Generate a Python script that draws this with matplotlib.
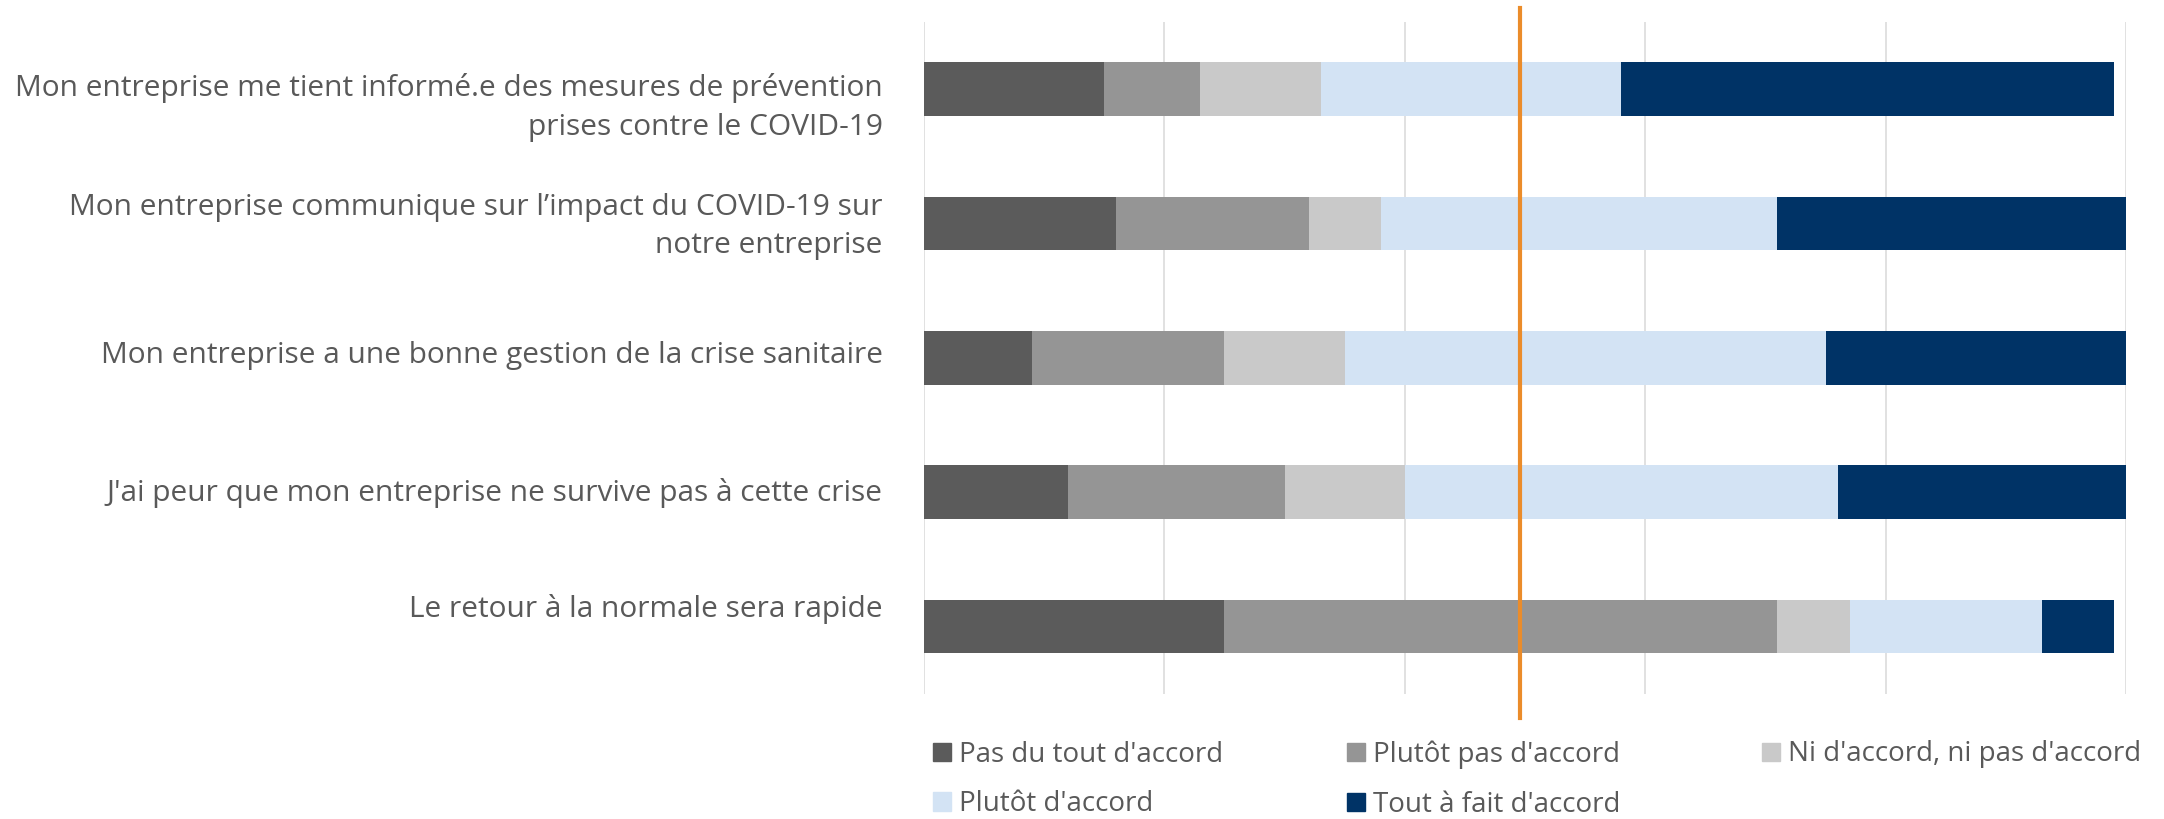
import numpy as np
import matplotlib.pyplot as plt
from matplotlib.patches import Patch

plt.rcParams['font.family'] = ['Open Sans', 'DejaVu Sans']

# Affirmations (de haut en bas)
affirmations = [
    "Mon entreprise me tient informé.e des mesures de prévention\nprises contre le COVID-19",
    "Mon entreprise communique sur l’impact du COVID-19 sur\nnotre entreprise",
    "Mon entreprise a une bonne gestion de la crise sanitaire",
    "J'ai peur que mon entreprise ne survive pas à cette crise",
    "Le retour à la normale sera rapide",
]
reponses = ["Pas du tout d'accord", "Plutôt pas d'accord", "Ni d'accord, ni pas d'accord",
            "Plutôt d'accord", "Tout à fait d'accord"]

# % de répondants par réponse
pas_du_tout = [15, 16, 9, 12, 25]
plutot_pas = [8, 16, 16, 18, 46]
ni_ni = [10, 6, 10, 10, 6]
plutot = [25, 33, 40, 36, 16]
tout_a_fait = [41, 29, 25, 24, 6]

# repère vertical (orange)
seuil = 49.6

series = [pas_du_tout, plutot_pas, ni_ni, plutot, tout_a_fait]
couleurs = ['#5b5b5b', '#959595', '#c9c9c9', '#d3e3f4', '#003366']
gris_texte = '#595959'

fig = plt.figure(figsize=(21.64, 8.19), dpi=100)
ax = fig.add_axes([0.4269, 0.1532, 0.5556, 0.8199])

y = np.arange(len(affirmations))
gauche = np.zeros(len(affirmations))
for serie, nom, c in zip(series, reponses, couleurs):
    ax.barh(y, serie, left=gauche, height=0.4, color=c, label=nom, zorder=3, linewidth=0)
    gauche += np.array(serie)

ax.set_xlim(0, 100)
ax.set_ylim(len(affirmations) - 0.5, -0.5)
ax.set_xticks(np.arange(0, 101, 20))
ax.set_yticks([])
ax.grid(axis='x', color='#d9d9d9', lw=1.1, zorder=0)
ax.tick_params(length=0, labelbottom=False)
for s in ax.spines.values():
    s.set_visible(False)

# ligne orange qui dépasse de la zone de tracé
ax.axvline(seuil, ymin=-0.0365, ymax=1.021, color='#EB8C2A', lw=3, clip_on=False, zorder=4)

# libellés des affirmations (décalages verticaux en pixels, comme dans l'original)
decalages = [18, 3, -2, 1, -17]
for i, (txt, d) in enumerate(zip(affirmations, decalages)):
    ax.annotate(txt, xy=(0, i), xycoords=('axes fraction', 'data'),
                xytext=(-41, -d), textcoords='offset pixels',
                ha='right', va='center', fontsize=21.5, color=gris_texte, linespacing=1.45)

# légende : 3 colonnes de largeur égale, remplies ligne par ligne
colonnes = [[0, 3], [1, 4], [2]]
x_colonnes = [933, 1347, 1762]
for idx, x0 in zip(colonnes, x_colonnes):
    fig.legend([Patch(color=couleurs[k]) for k in idx], [reponses[k] for k in idx],
               loc='upper left', bbox_to_anchor=(x0 / 2164, (819 - 740.5) / 819),
               frameon=False, fontsize=20, handlelength=0.64, handleheight=0.64,
               handletextpad=0.3, labelspacing=0.78,
               borderpad=0, borderaxespad=0, labelcolor=gris_texte)

fig.savefig('out.png', dpi=100)
